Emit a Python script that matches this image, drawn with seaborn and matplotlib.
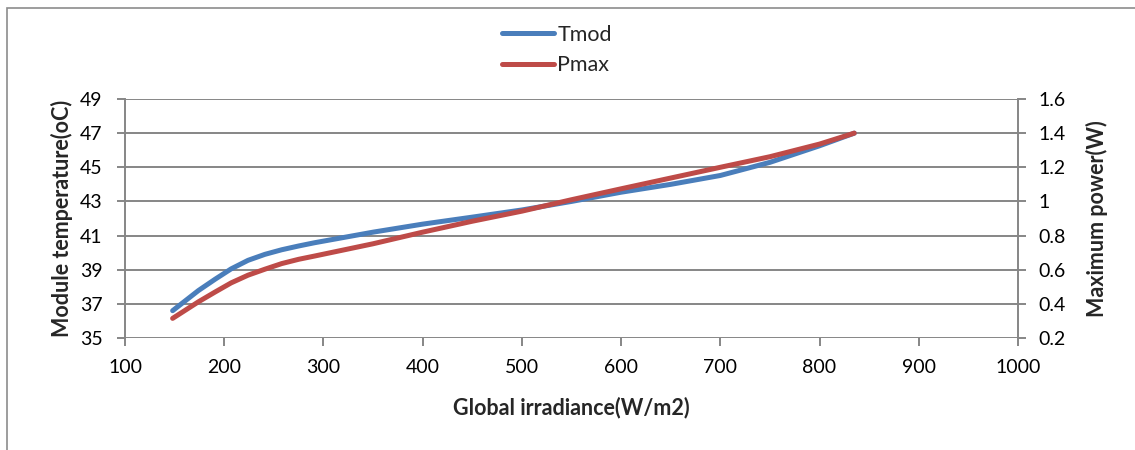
import numpy as np
import pandas as pd
import matplotlib
matplotlib.use("Agg")
import matplotlib.pyplot as plt
import seaborn as sns
from matplotlib.patches import Rectangle

sns.set_theme(style="white")
plt.rcParams['font.family'] = ['Lato', 'DejaVu Sans']

irradiance = [148, 174, 191, 207, 224, 241, 258, 275, 291, 350, 400, 450, 500, 550, 600, 650, 700, 750, 800, 835]
tmod = [36.6, 37.78, 38.45, 39.05, 39.55, 39.9, 40.17, 40.39, 40.58, 41.2, 41.67, 42.08, 42.5, 43.0, 43.54, 44.0, 44.52, 45.29, 46.26, 47.0]
pmax = [0.315, 0.412, 0.47, 0.523, 0.568, 0.603, 0.636, 0.661, 0.68, 0.752, 0.82, 0.884, 0.943, 1.01, 1.074, 1.137, 1.2, 1.262, 1.336, 1.40]

x_ticks = [100, 200, 300, 400, 500, 600, 700, 800, 900, 1000]
left_ticks = [35, 37, 39, 41, 43, 45, 47, 49]
right_ticks = [0.2, 0.4, 0.6, 0.8, 1.0, 1.2, 1.4, 1.6]
right_labels = ["0.2", "0.4", "0.6", "0.8", "1", "1.2", "1.4", "1.6"]

df = pd.DataFrame({"irr": irradiance, "Tmod": tmod, "Pmax": pmax})

W, H = 1135, 450
fig = plt.figure(figsize=(W / 100, H / 100), dpi=100)
fig.subplots_adjust(left=125 / W, right=1018 / W, top=1 - 99 / H, bottom=1 - 338 / H)
ax = fig.add_subplot(111)
ax2 = ax.twinx()

grid_c = "#868686"
blue = "#4A7EBB"
red = "#BE4B48"

sns.lineplot(data=df, x="irr", y="Tmod", ax=ax, color=blue, linewidth=3.6,
             solid_capstyle="round", solid_joinstyle="round", label="Tmod", legend=False)
sns.lineplot(data=df, x="irr", y="Pmax", ax=ax2, color=red, linewidth=3.6,
             solid_capstyle="round", solid_joinstyle="round", label="Pmax", legend=False)

ax.set_xlim(100, 1000)
ax.set_ylim(35, 49)
ax2.set_ylim(0.2, 1.6)
ax.set_xticks(x_ticks)
ax.set_xticklabels([str(v) for v in x_ticks])
ax.set_yticks(left_ticks)
ax.set_yticklabels([str(v) for v in left_ticks])
ax2.set_yticks(right_ticks)
ax2.set_yticklabels(right_labels)

for a in (ax, ax2):
    for s in a.spines.values():
        s.set_visible(False)
    a.set_facecolor("none")

ax.grid(False)
ax2.grid(False)
for v in left_ticks:
    ax.axhline(v, color=grid_c, lw=1.4, zorder=0)
ax.spines['left'].set_visible(True)
ax.spines['left'].set_color(grid_c)
ax.spines['left'].set_linewidth(1.4)
ax2.spines['right'].set_visible(True)
ax2.spines['right'].set_color(grid_c)
ax2.spines['right'].set_linewidth(1.4)

fs_tick = 14
ax.tick_params(axis='y', left=True, length=6, width=1.4, color=grid_c, pad=10, labelsize=fs_tick, labelcolor="black")
ax.tick_params(axis='x', bottom=True, length=6, width=1.4, color=grid_c, pad=9, labelsize=fs_tick, labelcolor="black")
ax2.tick_params(axis='y', right=True, length=6, width=1.4, color=grid_c, pad=9, labelsize=fs_tick, labelcolor="black")

fs_lab = 15.5
ax.set_xlabel("Global irradiance(W/m2)", fontsize=fs_lab, fontweight="bold", labelpad=15)
ax.set_ylabel("Module temperature(oC)", fontsize=fs_lab, fontweight="bold", labelpad=5)
ax2.set_ylabel("Maximum power(W)", fontsize=fs_lab, fontweight="bold", labelpad=14)

h1, l1 = ax.get_legend_handles_labels()
h2, l2 = ax2.get_legend_handles_labels()
leg = fig.legend(h1 + h2, l1 + l2, loc="center", bbox_to_anchor=(557 / W, 1 - 50 / H),
                 frameon=False, fontsize=15.5, handlelength=2.4, handletextpad=0.15,
                 labelspacing=0.5)

fig.patches.append(Rectangle((7 / W, -0.1), 1.2, (1 - 8 / H) + 0.1, transform=fig.transFigure,
                             fill=False, edgecolor="#8c8c8c", lw=1.2))

fig.savefig("out.png", dpi=100)
